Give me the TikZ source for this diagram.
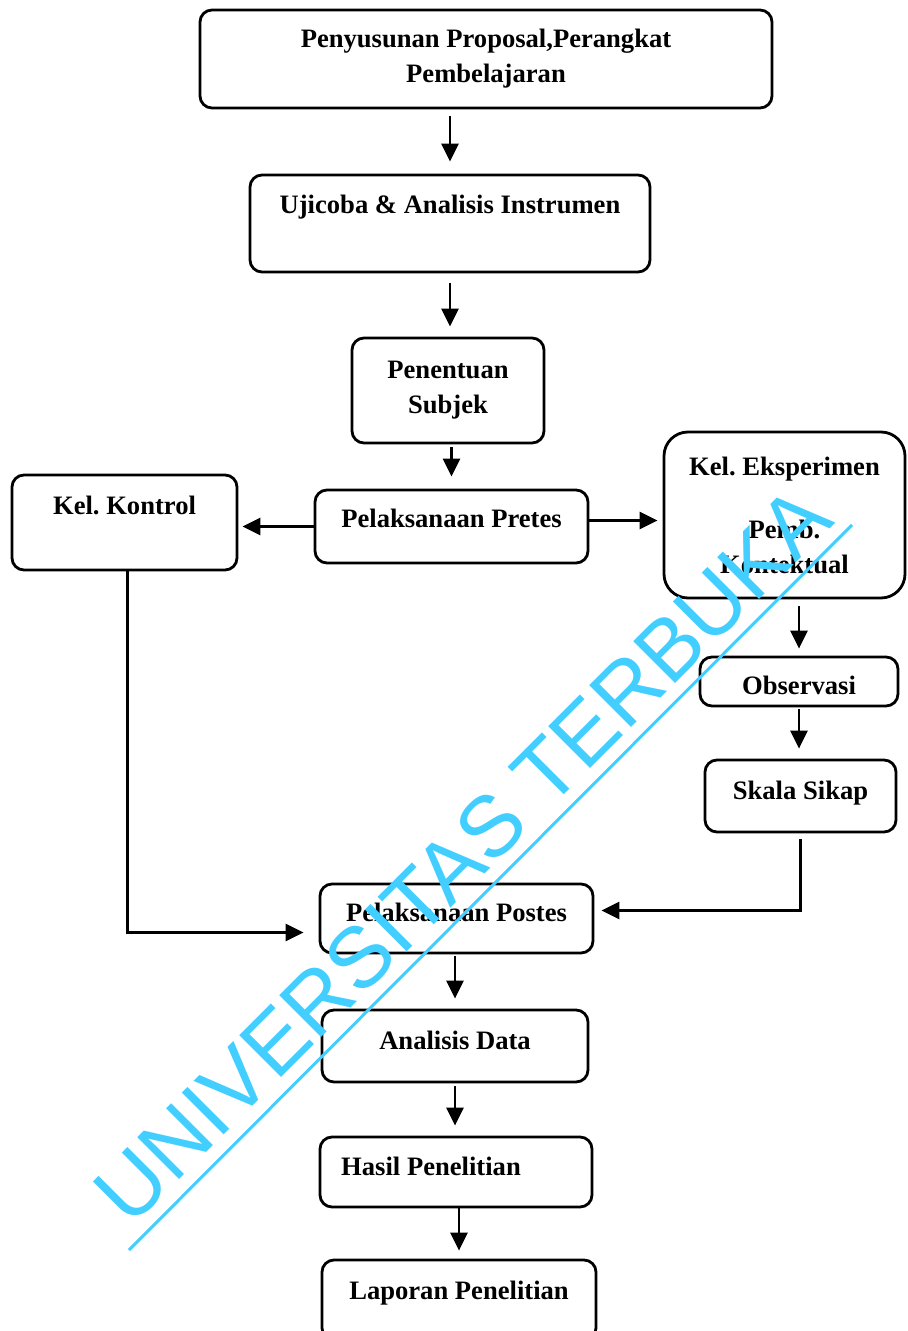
\documentclass[tikz,border=0pt]{standalone}
\usepackage{fontspec}
\setmainfont{Liberation Serif}
\newfontfamily\wmfont{Liberation Sans}
\usetikzlibrary{arrows.meta}
\definecolor{wmcyan}{RGB}{66,206,255}

\begin{document}
\begin{tikzpicture}[x=0.5pt, y=-0.5pt,
  box/.style={draw=black, rounded corners=6pt, line width=1.4pt, inner sep=0pt, align=center,
    font=\bfseries\fontsize{13.3}{17.5}\selectfont},
  oneline/.style={text height=9pt, text depth=#1},
  arr/.style={-{Triangle[length=9pt, width=8.5pt]}, line width=1.3pt, shorten <=0pt, shorten >=4pt}]
  \useasboundingbox (0,0) rectangle (907,1331);

  \node[box, minimum width=286pt, minimum height=49pt] (proposal) at (486,59) {Penyusunan Proposal,Perangkat\\Pembelajaran};
  \node[box, oneline=18.5pt, minimum width=200pt, minimum height=48.5pt] (ujicoba) at (450,223.5) {Ujicoba \& Analisis Instrumen};
  \node[box, minimum width=96pt, minimum height=52.5pt] (subjek) at (448,390.5) {Penentuan\\Subjek};
  \node[box, oneline=8.5pt, minimum width=136.5pt, minimum height=36.5pt] (pretes) at (451.5,526.5) {Pelaksanaan Pretes};
  \node[box, oneline=17.5pt, minimum width=112.5pt, minimum height=47.5pt] (kontrol) at (124.5,522.5) {Kel.\ Kontrol};
  \node[box, rounded corners=12pt, minimum width=120.5pt, minimum height=83pt] (eksperimen) at (784.5,515) {Kel.\ Eksperimen\\[14pt]Pemb.\\Kontektual};
  \node[box, oneline=0pt, text height=13pt, minimum width=99pt, minimum height=24.5pt] (observasi) at (799,681.5) {Observasi};
  \node[box, oneline=6pt, minimum width=95.5pt, minimum height=36pt] (skala) at (800.5,796) {Skala Sikap};
  \node[box, oneline=6.5pt, minimum width=136.5pt, minimum height=34.5pt] (postes) at (456.5,918.5) {Pelaksanaan Postes};
  \node[box, oneline=6pt, minimum width=133pt, minimum height=36pt] (analisis) at (455,1046) {Analisis Data};
  \node[box, oneline=6pt, minimum width=136pt, minimum height=35pt] (hasil) at (456,1172) {Hasil Penelitian\hspace*{25pt}};
  \node[box, oneline=10pt, minimum width=137pt, minimum height=40pt] (laporan) at (459,1300) {Laporan Penelitian};

  \draw[arr, shorten <=3.5pt, shorten >=6pt] (proposal.south -| ujicoba.north) -- (ujicoba.north);
  \draw[arr, shorten <=5pt, shorten >=5pt] (ujicoba.south) -- (ujicoba.south |- subjek.north);
  \draw[arr, shorten <=1.5pt, shorten >=6pt] (subjek.south -| pretes.north) -- (pretes.north);
  \draw[arr, shorten >=2pt] (pretes.west) -- (pretes.west -| kontrol.east);
  \draw[arr, shorten >=2.5pt] ([yshift=3pt]pretes.east) -- ([yshift=3pt]pretes.east -| eksperimen.west);
  \draw[arr, shorten <=3.5pt, shorten >=3.5pt] (eksperimen.south -| observasi.north) -- (observasi.north);
  \draw[arr, shorten <=1pt, shorten >=5pt] (observasi.south) -- (observasi.south |- skala.north);
  \draw[arr, shorten <=3pt, shorten >=3.5pt] (skala.south) |- ([yshift=4pt]postes.east);
  \draw[arr, shorten >=7.5pt] ([xshift=1.5pt]kontrol.south) |- ([yshift=-7pt]postes.west);
  \draw[arr, shorten <=1pt, shorten >=5pt] (postes.south -| analisis.north) -- (analisis.north);
  \draw[arr, shorten <=1.5pt, shorten >=5pt] (analisis.south) -- (analisis.south |- hasil.north);
  \draw[arr, shorten >=4pt] (hasil.south -| laporan.north) -- (laporan.north);

  % watermark
  \node[rotate=45, anchor=base, inner sep=0pt, text=wmcyan, font=\wmfont\fontsize{43}{43}\selectfont] (watermark) at (483.5,875.5) {UNIVERSITAS TERBUKA};
  \draw[wmcyan, line width=1.5pt] (129,1250) -- (852,525);
\end{tikzpicture}
\end{document}
